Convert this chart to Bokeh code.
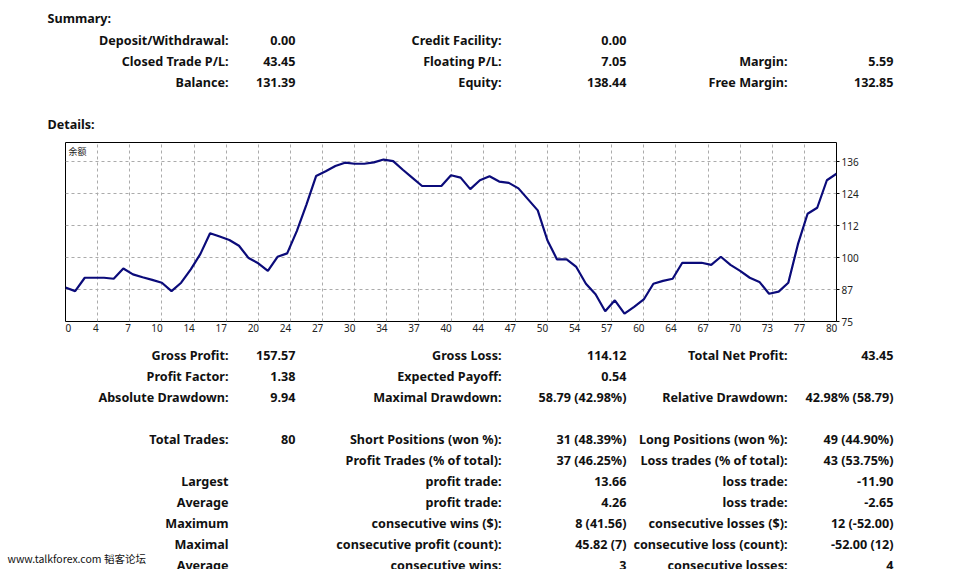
from bokeh.plotting import figure
from bokeh.models import Range1d, FixedTicker, Label, ColumnDataSource
from bokeh.embed import file_html
from bokeh.resources import INLINE
from bokeh.core.properties import value

# ---------------- data ----------------
summary_header = "Summary:"
details_header = "Details:"

summary_col1_labels = ["Deposit/Withdrawal:", "Closed Trade P/L:", "Balance:"]
summary_col1_values = ["0.00", "43.45", "131.39"]
summary_col2_labels = ["Credit Facility:", "Floating P/L:", "Equity:"]
summary_col2_values = ["0.00", "7.05", "138.44"]
summary_col3_labels = ["", "Margin:", "Free Margin:"]
summary_col3_values = ["", "5.59", "132.85"]

details_col1_labels = ["Gross Profit:", "Profit Factor:", "Absolute Drawdown:", "",
                       "Total Trades:", "", "Largest", "Average", "Maximum", "Maximal", "Average"]
details_col1_values = ["157.57", "1.38", "9.94", "", "80", "", "", "", "", "", ""]
details_col2_labels = ["Gross Loss:", "Expected Payoff:", "Maximal Drawdown:", "",
                       "Short Positions (won %):", "Profit Trades (% of total):", "profit trade:",
                       "profit trade:", "consecutive wins ($):", "consecutive profit (count):",
                       "consecutive wins:"]
details_col2_values = ["114.12", "0.54", "58.79 (42.98%)", "", "31 (48.39%)", "37 (46.25%)",
                       "13.66", "4.26", "8 (41.56)", "45.82 (7)", "3"]
details_col3_labels = ["Total Net Profit:", "", "Relative Drawdown:", "",
                       "Long Positions (won %):", "Loss trades (% of total):", "loss trade:",
                       "loss trade:", "consecutive losses ($):", "consecutive loss (count):",
                       "consecutive losses:"]
details_col3_values = ["43.45", "", "42.98% (58.79)", "", "49 (44.90%)", "43 (53.75%)",
                       "-11.90", "-2.65", "12 (-52.00)", "-52.00 (12)", "4"]

watermark = "www.talkforex.com 韬客论坛"
chart_label = "余额"

# balance after each trade (trade 0 .. 80)
balance = [87.94, 86.6, 91.7, 91.7, 91.7, 91.3, 95.2, 93.0, 91.9, 90.9,
           89.8, 86.6, 89.8, 94.9, 100.8, 108.7, 107.4, 106.1, 103.9, 99.2,
           97.2, 94.3, 99.7, 101.0, 109.5, 119.6, 130.5, 132.3, 134.3, 135.6,
           135.2, 135.2, 135.7, 136.79, 136.2, 132.9, 129.8, 126.7, 126.7, 126.7,
           130.8, 129.9, 125.5, 128.9, 130.4, 128.4, 127.9, 125.8, 121.6, 117.4,
           106.0, 98.7, 98.7, 95.8, 89.4, 85.4, 78.9, 83.1, 78.0, 80.6,
           83.4, 89.4, 90.5, 91.3, 97.4, 97.4, 97.4, 96.6, 99.7, 96.6,
           94.3, 91.7, 90.1, 85.6, 86.4, 89.8, 104.5, 116.1, 118.4, 128.9,
           131.39]

x_tick_labels = ["0", "4", "7", "10", "14", "17", "20", "24", "27", "30", "34", "37", "40",
                 "44", "47", "50", "54", "57", "60", "64", "67", "70", "73", "77", "80"]
y_ticks = [75.0, 87.2, 99.4, 111.6, 123.8, 136.0]
y_tick_labels = ["75", "87", "100", "112", "124", "136"]

# ---------------- style / layout ----------------
W, H = 971, 569
TOP_H, CH_H = 140, 200
BOT_H = H - TOP_H - CH_H
FR_L, FR_R, FR_T, FR_B = 65, 836, 142, 321      # chart frame on the page (pixels)
FONT = "Noto Sans"
FSIZE = "12.6px"
TXT = "#111111"
ROW = 21
COL_X = [228, 295, 501, 626, 787, 893]
HEAD_X = 47
SUMMARY_Y0 = 40
DETAILS_Y0 = 355


def text_fig(h):
    f = figure(width=W, height=h, x_range=Range1d(0, W), y_range=Range1d(h, 0),
               x_axis_location=None, y_axis_location=None,
               output_backend="svg", toolbar_location=None, min_border=0)
    f.outline_line_color = None
    f.grid.visible = False
    f.background_fill_color = "white"
    f.border_fill_color = "white"
    return f


def add_texts(f, texts, page_x, page_y0, y_off, align="right", font=FONT,
              style="bold", size=FSIZE):
    xs_, ys_, ts_ = [], [], []
    for i, t in enumerate(texts):
        if t:
            xs_.append(page_x)
            ys_.append(page_y0 + i * ROW - y_off)
            ts_.append(t)
    src = ColumnDataSource(dict(x=xs_, y=ys_, text=ts_))
    f.text(x="x", y="y", text="text", source=src, text_align=align,
           text_baseline="middle", text_font=value(font), text_font_style=style,
           text_font_size=size, text_color=TXT)


# ---- top (summary) ----
top = text_fig(TOP_H)
add_texts(top, [summary_header], HEAD_X, SUMMARY_Y0 - ROW - 1, 0, align="left")
add_texts(top, [details_header], HEAD_X, SUMMARY_Y0 + 4 * ROW, 0, align="left")
for lst, cx in zip([summary_col1_labels, summary_col1_values, summary_col2_labels,
                    summary_col2_values, summary_col3_labels, summary_col3_values], COL_X):
    add_texts(top, lst, cx, SUMMARY_Y0, 0)

# ---- chart ----
n = len(balance)
xs = list(range(n))
chart = figure(width=W, height=CH_H, x_range=Range1d(0, n - 1), y_range=Range1d(75.0, 143.3),
               y_axis_location="right", output_backend="svg", toolbar_location=None,
               min_border_left=FR_L, min_border_right=W - FR_R,
               min_border_top=FR_T - TOP_H, min_border_bottom=TOP_H + CH_H - FR_B)
chart.background_fill_color = "white"
chart.border_fill_color = "white"
chart.outline_line_color = "#000000"
chart.outline_line_width = 1

nt = len(x_tick_labels) - 1
grid_x = [k * (n - 1) / nt for k in range(nt + 1)]
px_per_unit = (FR_R - FR_L) / (n - 1)
label_x = []
for gx, lbl in zip(grid_x, x_tick_labels):
    label_x.append(max(gx + (1.5 - 3.2 * len(lbl)) / px_per_unit, 0.3))
chart.xaxis.ticker = FixedTicker(ticks=label_x)
chart.xaxis.major_label_overrides = {t: l for t, l in zip(label_x, x_tick_labels)}
chart.xgrid.ticker = FixedTicker(ticks=grid_x)
chart.yaxis.ticker = FixedTicker(ticks=y_ticks)
chart.yaxis.major_label_overrides = {t: l for t, l in zip(y_ticks, y_tick_labels)}

for ax in (chart.xaxis, chart.yaxis):
    ax.axis_line_color = None
    ax.minor_tick_line_color = None
    ax.minor_tick_out = 0
    ax.minor_tick_in = 0
    ax.major_label_text_font = FONT
    ax.major_label_text_font_size = "10px"
    ax.major_label_text_color = "#222222"
chart.xaxis.major_tick_line_color = None
chart.xaxis.major_tick_out = 0
chart.xaxis.major_tick_in = 0
chart.xaxis.major_label_standoff = 2
chart.yaxis.major_tick_line_color = "#000000"
chart.yaxis.major_tick_in = 0
chart.yaxis.major_tick_out = 3
chart.yaxis.major_label_standoff = 2

chart.grid.grid_line_color = "#ababab"
chart.grid.grid_line_dash = "3 3"
chart.grid.grid_line_width = 1

chart.line(xs, balance, line_color="#0b0b7a", line_width=2.2)

chart.add_layout(Label(x=3, y=(FR_B - FR_T) - 9, x_units="screen", y_units="screen",
                       text=chart_label, text_font="Noto Sans CJK SC", text_font_size="9px",
                       text_baseline="middle", text_color="#222222"))

# ---- bottom (details) ----
bot = text_fig(BOT_H)
off = TOP_H + CH_H
for lst, cx in zip([details_col1_labels, details_col1_values, details_col2_labels,
                    details_col2_values, details_col3_labels, details_col3_values], COL_X):
    add_texts(bot, lst, cx, DETAILS_Y0, off)
add_texts(bot, [watermark], 7, 558, off, align="left", font="Noto Sans CJK SC",
          style="normal", size="10.5px")

open("out.html", "w").write(file_html([top, chart, bot], INLINE))
